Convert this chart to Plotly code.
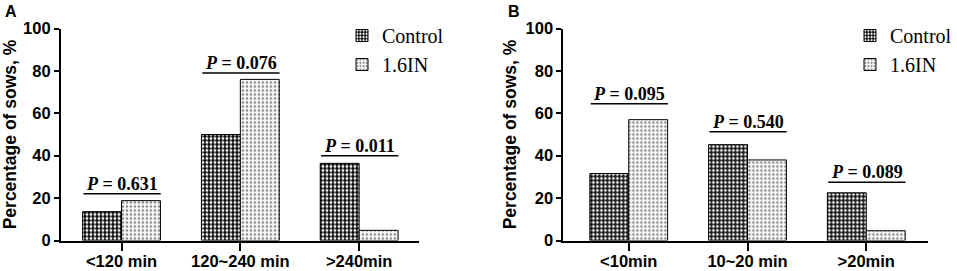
import plotly.graph_objects as go

categories_A = ["<120 min", "120~240 min", ">240min"]
control_A = [13.6, 50.0, 36.4]
in_A = [18.8, 76.0, 4.8]
p_A = ["0.631", "0.076", "0.011"]
pline_A = [22.0, 79.0, 40.0]

categories_B = ["<10min", "10~20 min", ">20min"]
control_B = [31.6, 45.2, 22.5]
in_B = [57.0, 38.0, 4.6]
p_B = ["0.095", "0.540", "0.089"]
pline_B = [64.5, 51.3, 27.5]

series_names = ["Control", "1.6IN"]
y_ticks = [0, 20, 40, 60, 80, 100]

W, H = 957, 271

def esc(s):
    return s.replace("<", "&lt;").replace(">", "&gt;")

ctrl_pattern = dict(shape=".", fillmode="replace", bgcolor="#000000", fgcolor="white", size=4, solidity=0.42)
in_pattern = dict(shape=".", fillmode="replace", bgcolor="white", fgcolor="#858585", size=4, solidity=0.35)

fig = go.Figure()

panels = [
    dict(cats=categories_A, c=control_A, t=in_A, p=p_A, pl=pline_A, xa="x", ya="y", leg="legend"),
    dict(cats=categories_B, c=control_B, t=in_B, p=p_B, pl=pline_B, xa="x2", ya="y2", leg="legend2"),
]

for pn in panels:
    fig.add_trace(go.Bar(x=pn["cats"], y=pn["c"], name=series_names[0], xaxis=pn["xa"], yaxis=pn["ya"],
                         legend=pn["leg"],
                         marker=dict(color="#000000", pattern=ctrl_pattern, line=dict(color="black", width=1))))
    fig.add_trace(go.Bar(x=pn["cats"], y=pn["t"], name=series_names[1], xaxis=pn["xa"], yaxis=pn["ya"],
                         legend=pn["leg"],
                         marker=dict(color="white", pattern=in_pattern, line=dict(color="black", width=1))))
    for i, (pv, yl) in enumerate(zip(pn["p"], pn["pl"])):
        fig.add_shape(type="line", xref=pn["xa"], yref=pn["ya"], x0=i - 0.32, x1=i + 0.33, y0=yl, y1=yl,
                      line=dict(color="black", width=1.5))
        fig.add_annotation(xref=pn["xa"], yref=pn["ya"], x=i + 0.005, y=yl, yanchor="bottom", yshift=-2,
                           text="<b><i>P</i> = " + pv + "</b>", showarrow=False,
                           font=dict(family="Liberation Serif", size=18, color="black"))

axis_common_y = dict(range=[0, 100], tickvals=y_ticks, showline=True, linecolor="black", linewidth=2,
                     ticks="outside", ticklen=5, tickwidth=2, tickcolor="black", showgrid=False, zeroline=False,
                     tickfont=dict(family="Arial, Liberation Sans", size=16.5, color="black", weight="bold"),
                     title=dict(text="<b>Percentage of sows, %</b>",
                                font=dict(family="Arial, Liberation Sans", size=17.5, color="black"), standoff=4),
                     automargin=False, fixedrange=True)

def xaxis(cats, dom, rng, anchor):
    return dict(domain=dom, range=rng, type="category", tickvals=cats, ticktext=[esc(c) for c in cats],
                anchor=anchor, ticklabelstandoff=-3,
                showline=True, linecolor="black", linewidth=2, ticks="outside", ticklen=8, tickwidth=2,
                tickcolor="black", showgrid=False, zeroline=False, automargin=False,
                tickfont=dict(family="Arial, Liberation Sans", size=16.5, color="black", weight="bold"))

ydom = [1 - 240.5 / H, 1 - 28.5 / H]
fig.update_layout(
    width=W, height=H, margin=dict(l=0, r=0, t=0, b=0), paper_bgcolor="white", plot_bgcolor="white",
    barmode="group", bargap=0.345, bargroupgap=0,
    xaxis=xaxis(categories_A, [61 / W, 419 / W], [-0.51, 2.5], "y"),
    yaxis=dict(domain=ydom, anchor="x", **axis_common_y),
    xaxis2=xaxis(categories_B, [564 / W, 929 / W], [-0.55, 2.52], "y2"),
    yaxis2=dict(domain=ydom, anchor="x2", **axis_common_y),
    legend=dict(x=342 / W, y=1 - 16 / H, xanchor="left", yanchor="top", bgcolor="rgba(0,0,0,0)",
                font=dict(family="Liberation Serif", size=20, color="black"), tracegroupgap=0),
    legend2=dict(x=851 / W, y=1 - 16 / H, xanchor="left", yanchor="top", bgcolor="rgba(0,0,0,0)",
                 font=dict(family="Liberation Serif", size=20, color="black"), tracegroupgap=0),
    showlegend=True,
)

fig.add_annotation(xref="paper", yref="paper", x=3 / W, y=1 - 1 / H, xanchor="left", yanchor="top",
                   text="<b>A</b>", showarrow=False,
                   font=dict(family="Arial, Liberation Sans", size=16, color="black"))
fig.add_annotation(xref="paper", yref="paper", x=507 / W, y=1 - 1 / H, xanchor="left", yanchor="top",
                   text="<b>B</b>", showarrow=False,
                   font=dict(family="Arial, Liberation Sans", size=16, color="black"))

fig.write_html("out.html", config={"displayModeBar": False},
               post_script="document.body.style.margin='0';document.body.style.overflow='hidden';")
